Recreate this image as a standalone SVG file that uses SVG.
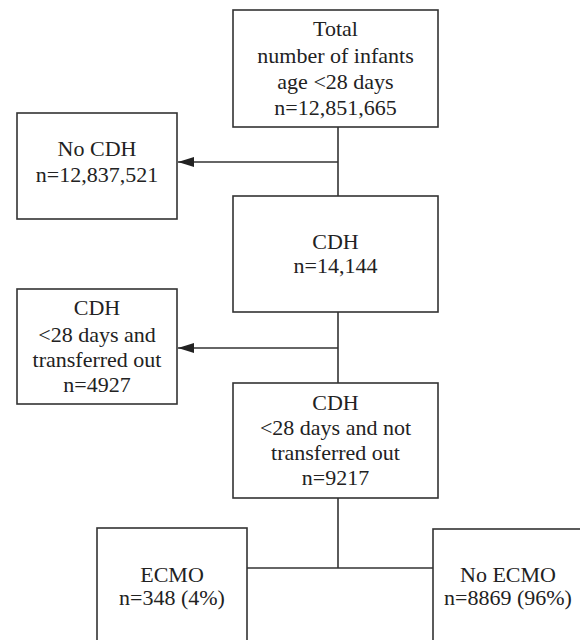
<svg xmlns="http://www.w3.org/2000/svg" width="580" height="640" viewBox="0 0 580 640">
<style>
.box{fill:#fff;stroke:#333;stroke-width:1.6}
.t{font-size:22px;fill:#222;text-anchor:middle}
.ln{fill:none;stroke:#333;stroke-width:1.6}
</style>
<defs>
<marker id="ah" viewBox="0 0 16 10" refX="16" refY="5" markerWidth="16" markerHeight="10" markerUnits="userSpaceOnUse" orient="auto">
<path d="M0,0 L16,5 L0,10 Z" fill="#222"/>
</marker>
</defs>
<rect width="580" height="640" fill="#fff"/>
<g id="connectors">
<line class="ln" x1="338" y1="127" x2="338" y2="196"/>
<line class="ln" x1="338" y1="162" x2="178" y2="162" marker-end="url(#ah)"/>
<line class="ln" x1="338" y1="312" x2="338" y2="383"/>
<line class="ln" x1="338" y1="348" x2="178" y2="348" marker-end="url(#ah)"/>
<line class="ln" x1="338" y1="498" x2="338" y2="568"/>
<line class="ln" x1="247" y1="568" x2="433" y2="568"/>
</g>
<g font-family="Liberation Serif">
<g id="total">
<rect class="box" x="233" y="10" width="205" height="117"/>
<text class="t" x="335.5" y="36">Total</text>
<text class="t" x="335.5" y="62.5">number of infants</text>
<text class="t" x="335.5" y="89">age &lt;28 days</text>
<text class="t" x="335.5" y="115">n=12,851,665</text>
</g>
<g id="nocdh">
<rect class="box" x="17" y="113" width="160" height="106"/>
<text class="t" x="97" y="156">No CDH</text>
<text class="t" x="97" y="182">n=12,837,521</text>
</g>
<g id="cdh">
<rect class="box" x="233" y="196" width="205" height="116"/>
<text class="t" x="335.5" y="249">CDH</text>
<text class="t" x="335.5" y="273">n=14,144</text>
</g>
<g id="transferred">
<rect class="box" x="17" y="289" width="160" height="115"/>
<text class="t" x="97" y="315">CDH</text>
<text class="t" x="97" y="342">&lt;28 days and</text>
<text class="t" x="97" y="367">transferred out</text>
<text class="t" x="97" y="392">n=4927</text>
</g>
<g id="nottransferred">
<rect class="box" x="233" y="383" width="205" height="115"/>
<text class="t" x="335.5" y="410">CDH</text>
<text class="t" x="335.5" y="435">&lt;28 days and not</text>
<text class="t" x="335.5" y="460">transferred out</text>
<text class="t" x="335.5" y="485">n=9217</text>
</g>
<g id="ecmo">
<rect class="box" x="97" y="528" width="150" height="130"/>
<text class="t" x="172" y="582">ECMO</text>
<text class="t" x="172" y="605">n=348 (4%)</text>
</g>
<g id="noecmo">
<rect class="box" x="433" y="529" width="150" height="130"/>
<text class="t" x="508" y="582">No ECMO</text>
<text class="t" x="508" y="605">n=8869 (96%)</text>
</g>
</g>
</svg>
